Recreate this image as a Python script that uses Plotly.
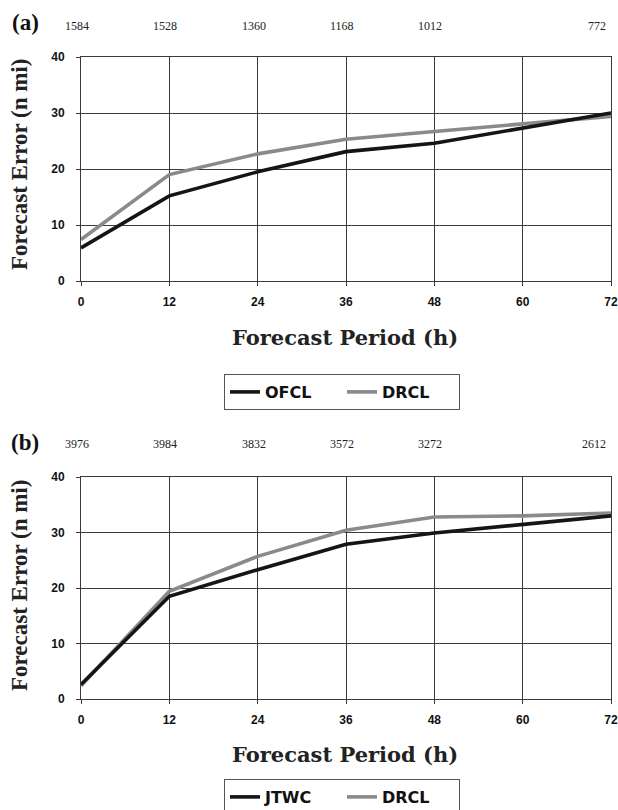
import plotly.graph_objects as go

hours = [0, 12, 24, 36, 48, 60, 72]
ofcl_a = [5.9, 15.2, 19.5, 23.1, 24.6, 27.3, 30.0]
drcl_a = [7.4, 19.0, 22.7, 25.3, 26.7, 28.0, 29.4]
jtwc_b = [2.6, 18.5, 23.3, 27.9, 29.9, 31.5, 33.0]
drcl_b = [2.4, 19.4, 25.7, 30.4, 32.8, 33.0, 33.5]

count_hours = [0, 12, 24, 36, 48, 72]
counts_a = [1584, 1528, 1360, 1168, 1012, 772]
counts_b = [3976, 3984, 3832, 3572, 3272, 2612]

W, H = 618, 810
BLACK = "#151515"
GRAY = "#8a8a8a"
GRID = "#3a3a3a"


def px(p):
    return p / W


def py(p):
    return 1 - p / H


fig = go.Figure()

fig.add_trace(go.Scatter(x=hours, y=drcl_a, mode="lines", name="DRCL",
                         line=dict(color=GRAY, width=3.6), xaxis="x", yaxis="y",
                         legend="legend", legendrank=2))
fig.add_trace(go.Scatter(x=hours, y=ofcl_a, mode="lines", name="OFCL",
                         line=dict(color=BLACK, width=3.6), xaxis="x", yaxis="y",
                         legend="legend", legendrank=1))
fig.add_trace(go.Scatter(x=hours, y=drcl_b, mode="lines", name="DRCL",
                         line=dict(color=GRAY, width=3.6), xaxis="x2", yaxis="y2",
                         legend="legend2", legendrank=2))
fig.add_trace(go.Scatter(x=hours, y=jtwc_b, mode="lines", name="JTWC",
                         line=dict(color=BLACK, width=3.6), xaxis="x2", yaxis="y2",
                         legend="legend2", legendrank=1))

tickfont = dict(family="Liberation Sans, Arial", size=12, color="#111", weight="bold")
xa = dict(range=[0, 72], tickmode="array", tickvals=hours, showgrid=True,
          gridcolor=GRID, gridwidth=1, showline=True, linecolor=GRID, linewidth=1,
          mirror=True, ticks="outside", ticklen=4, tickcolor=GRID,
          tickfont=tickfont, ticklabelstandoff=6, ticklabeloverflow="allow",
          zeroline=False, fixedrange=True)
ya = dict(range=[0, 40], tickmode="array", tickvals=[0, 10, 20, 30, 40],
          showgrid=True, gridcolor=GRID, gridwidth=1, showline=True,
          linecolor=GRID, linewidth=1, mirror=True, ticks="outside", ticklen=4,
          tickcolor=GRID, tickfont=tickfont, ticklabelstandoff=9,
          ticklabeloverflow="allow", zeroline=False, fixedrange=True)

legfont = dict(family="DejaVu Sans, Liberation Sans", size=16, color="#111",
               weight="bold")
xdom = [px(81), px(611)]
fig.update_layout(
    width=W, height=H,
    margin=dict(l=0, r=0, t=0, b=0, autoexpand=False),
    paper_bgcolor="white", plot_bgcolor="white",
    xaxis=dict(xa, domain=xdom, anchor="y"),
    yaxis=dict(ya, domain=[py(281), py(57)], anchor="x"),
    xaxis2=dict(xa, domain=xdom, anchor="y2"),
    yaxis2=dict(ya, domain=[py(699), py(477)], anchor="x2"),
    legend=dict(orientation="h", x=px(342), xanchor="center", y=py(374),
                yanchor="top", bordercolor="#555", borderwidth=1,
                font=legfont, itemwidth=30, entrywidth=72, bgcolor="white"),
    legend2=dict(orientation="h", x=px(342), xanchor="center", y=py(779),
                 yanchor="top", bordercolor="#555", borderwidth=1,
                 font=legfont, itemwidth=30, entrywidth=72, bgcolor="white"),
    showlegend=True,
)

serif = "Liberation Serif, Times New Roman, serif"
wide_serif = "DejaVu Serif, Liberation Serif, serif"
ann = []
for lab, ypix in [("(a)", 23), ("(b)", 442)]:
    ann.append(dict(text="<b>%s</b>" % lab, x=px(25), y=py(ypix), xref="paper",
                    yref="paper", showarrow=False, xanchor="center",
                    yanchor="middle", font=dict(family=serif, size=23, color="#111")))
for vals, ypix, xr in [(counts_a, 26, "x"), (counts_b, 444, "x2")]:
    for i, (hx, v) in enumerate(zip(count_hours, vals)):
        last = i == len(vals) - 1
        ann.append(dict(text=str(v), x=hx, xref=xr, y=py(ypix), yref="paper",
                        showarrow=False,
                        xanchor="right" if last else "center",
                        yanchor="middle",
                        xshift=-3 if last else -4,
                        font=dict(family=serif, size=12, color="#222")))
for ycen in [165, 586]:
    ann.append(dict(text="<b>Forecast Error (n mi)</b>", x=px(19), y=py(ycen),
                    xref="paper", yref="paper", showarrow=False, textangle=-90,
                    xanchor="center", yanchor="middle",
                    font=dict(family=serif, size=23, color="#222")))
for ycen in [337, 754]:
    ann.append(dict(text="<b>Forecast Period (h)</b>", x=px(345), y=py(ycen),
                    xref="paper", yref="paper", showarrow=False,
                    xanchor="center", yanchor="middle",
                    font=dict(family=wide_serif, size=21, color="#222")))
fig.update_layout(annotations=ann)

fig.write_html(
    "out.html",
    config={"displayModeBar": False, "staticPlot": True},
    post_script=("document.documentElement.style.margin='0';"
                 "document.body.style.margin='0';"
                 "document.documentElement.style.overflow='hidden';"
                 "document.body.style.overflow='hidden';"),
)
